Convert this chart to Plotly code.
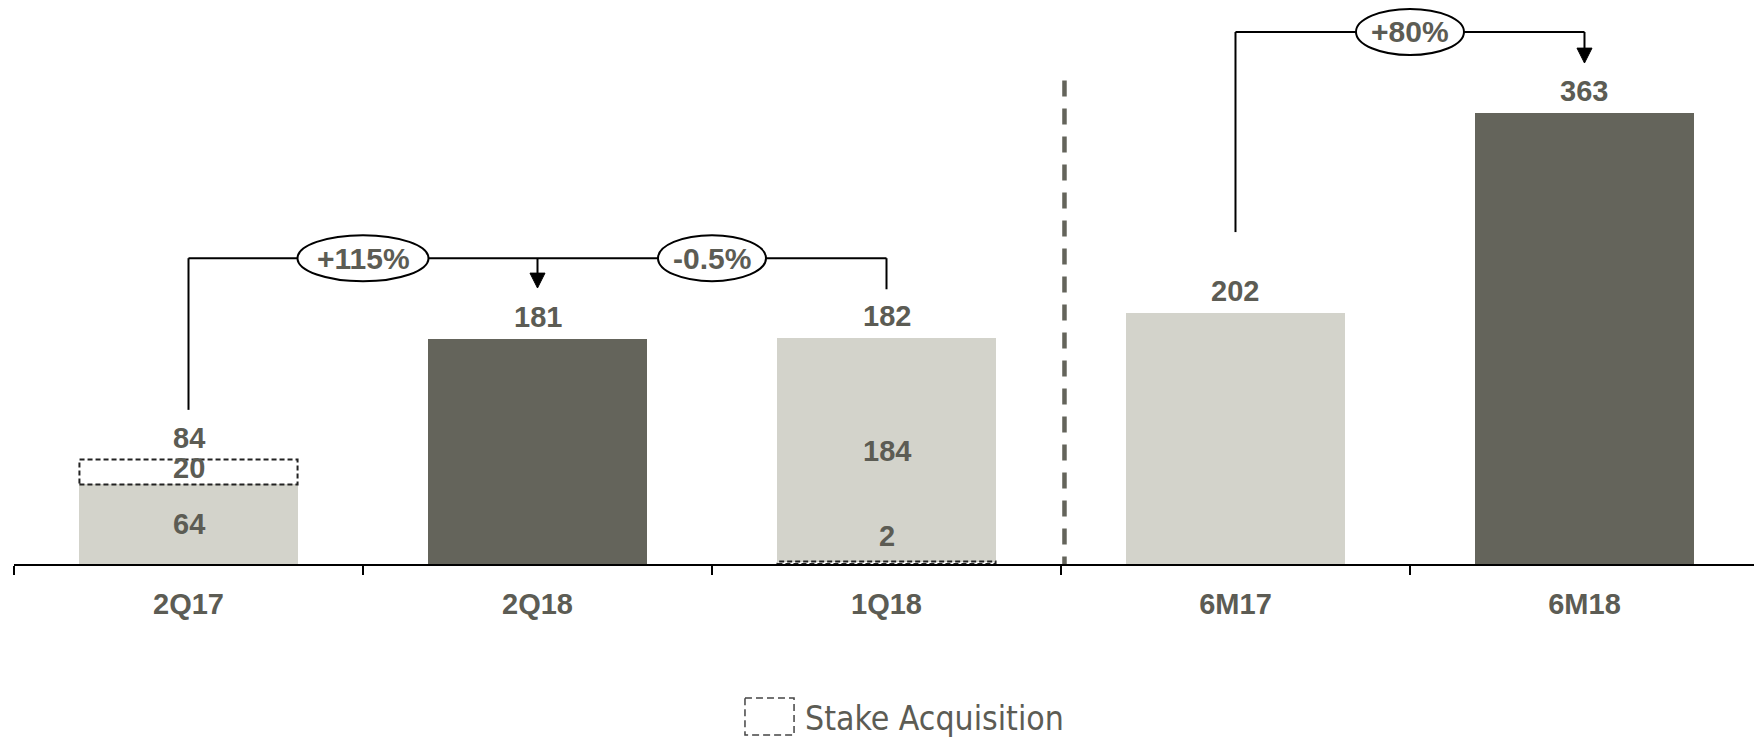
import plotly.graph_objects as go

# ---- data -------------------------------------------------------------
categories = ["2Q17", "2Q18", "1Q18", "6M17", "6M18"]
totals = [84, 181, 182, 202, 363]            # value printed above each bar
bar_values = [64, 181, 182, 202, 363]        # solid bar height
inner_labels = ["64", None, "184", None, None]  # value printed inside the solid bar
stake_values = [20, 0, 2, 0, 0]              # stake acquisition component
stake_bases = [64, 0, 0, 0, 0]
stake_labels = ["20", None, "2", None, None]
change_labels = ["+115%", "-0.5%", "+80%"]

# ---- styling ----------------------------------------------------------
LIGHT = "#d3d3cb"
DARK = "#64645b"
TEXT = "#5c5c54"
bar_colors = [LIGHT, DARK, LIGHT, LIGHT, DARK]
BAR_W = 0.625
FONT = "Liberation Sans, Arial, sans-serif"
X_RANGE = [-0.5, 4.4857]
Y_RANGE = [0, 453.7]

x = list(range(len(categories)))

fig = go.Figure()

fig.add_trace(go.Bar(
    x=x, y=bar_values, width=BAR_W,
    marker=dict(color=bar_colors, line=dict(width=0)),
    hoverinfo="skip", showlegend=False,
))

fig.add_trace(go.Bar(
    x=x, y=stake_values, base=stake_bases, width=BAR_W,
    marker=dict(color="white", line=dict(width=0)),
    hoverinfo="skip", showlegend=False,
))

shapes = []
annotations = []

# dashed outline around the stake acquisition blocks
for i, (v, b) in enumerate(zip(stake_values, stake_bases)):
    if v:
        shapes.append(dict(
            type="rect", xref="x", yref="y",
            x0=i - BAR_W / 2, x1=i + BAR_W / 2, y0=b, y1=b + v,
            line=dict(color="#222222", width=2, dash="5px,3px"),
            fillcolor="rgba(0,0,0,0)", layer="above",
        ))

# separator between quarterly and half-year blocks
shapes.append(dict(
    type="line", xref="x", yref="y", x0=2.51, x1=2.51, y0=389, y1=0,
    line=dict(color=DARK, width=4.5, dash="16px,12px"), layer="above",
))

# growth brackets
BR = dict(color="black", width=2)
q_level, h_level = 246, 428


def seg(x0, y0, x1, y1):
    shapes.append(dict(type="line", xref="x", yref="y",
                       x0=x0, y0=y0, x1=x1, y1=y1, line=BR, layer="above"))


def arrow(xc, tip, level):
    seg(xc, level, xc, tip + 11)
    hw = 0.0215
    shapes.append(dict(
        type="path", xref="x", yref="y",
        path=f"M{xc - hw},{tip + 12} L{xc + hw},{tip + 12} L{xc},{tip} Z",
        fillcolor="black", line=dict(color="black", width=1), layer="above",
    ))


# quarterly bracket: 2Q17 -> 2Q18 <- 1Q18
seg(0, totals[0] + 40, 0, q_level)
seg(0, q_level, 2, q_level)
seg(2, totals[2] + 39, 2, q_level)
arrow(1, totals[1] + 41, q_level)

# half-year bracket: 6M17 -> 6M18
seg(3, totals[3] + 65, 3, h_level)
seg(3, h_level, 4, h_level)
arrow(4, totals[4] + 40, h_level)

# ellipses carrying the change labels
ellipses = [(0.5, q_level, 131), (1.5, q_level, 108), (3.5, h_level, 108)]
for (xc, yc, w), label in zip(ellipses, change_labels):
    shapes.append(dict(
        type="circle", xref="x", yref="y",
        xsizemode="pixel", ysizemode="pixel", xanchor=xc, yanchor=yc,
        x0=-w / 2, x1=w / 2, y0=-23, y1=23,
        fillcolor="white", line=dict(color="black", width=2), layer="above",
    ))
    annotations.append(dict(
        x=xc, y=yc, xref="x", yref="y", text=label, showarrow=False,
        font=dict(family=FONT, size=30, color=TEXT, weight="bold"),
        xanchor="center", yanchor="middle",
    ))

lab_font = dict(family=FONT, size=29, color=TEXT, weight="bold")

# totals above bars
for i, t in enumerate(totals):
    annotations.append(dict(
        x=i, y=t, xref="x", yref="y", text=str(t), showarrow=False,
        font=lab_font, xanchor="center", yanchor="middle", yshift=22,
    ))

# labels inside the solid bars
for i, lab in enumerate(inner_labels):
    if lab:
        annotations.append(dict(
            x=i, y=bar_values[i] / 2, xref="x", yref="y", text=lab,
            showarrow=False, font=lab_font, xanchor="center", yanchor="middle",
        ))

# stake acquisition labels
for i, lab in enumerate(stake_labels):
    if lab:
        top = stake_bases[i] + stake_values[i]
        shift = 4 if stake_values[i] > 5 else 26
        yy = stake_bases[i] + stake_values[i] / 2 if stake_values[i] > 5 else top
        annotations.append(dict(
            x=i, y=yy, xref="x", yref="y", text=lab, showarrow=False,
            font=lab_font, xanchor="center", yanchor="middle", yshift=shift,
        ))

# legend key
shapes.append(dict(
    type="rect", xref="paper", yref="paper",
    x0=0.4201, x1=0.4483, y0=-0.2376, y1=-0.3032,
    line=dict(color="#444444", width=1.5, dash="7px,4px"),
    fillcolor="white",
))
annotations.append(dict(
    x=0.4537, y=-0.2745, xref="paper", yref="paper", text="Stake Acquisition",
    showarrow=False, xanchor="left", yanchor="middle",
    font=dict(family="DejaVu Sans Condensed, DejaVu Sans, sans-serif",
              size=33.5, color=TEXT),
))

fig.update_layout(
    width=1754, height=738, autosize=False,
    margin=dict(l=14, r=0, t=0, b=174),
    paper_bgcolor="white", plot_bgcolor="white",
    barmode="overlay", bargap=0,
    shapes=shapes, annotations=annotations,
    showlegend=False,
    xaxis=dict(
        range=X_RANGE, tickmode="array", tickvals=x, ticktext=categories,
        ticks="", showgrid=False, zeroline=False,
        showline=True, linecolor="black", linewidth=2,
        tickfont=dict(family=FONT, size=29, color=TEXT, weight="bold"),
        ticklabelstandoff=13,
        minor=dict(tickmode="array", tickvals=[-0.5, 0.5, 1.5, 2.5, 3.5],
                   ticks="outside", ticklen=9, tickwidth=2, tickcolor="black",
                   showgrid=False),
    ),
    yaxis=dict(range=Y_RANGE, visible=False, showgrid=False, zeroline=False),
)

fig.write_html("out.html")
